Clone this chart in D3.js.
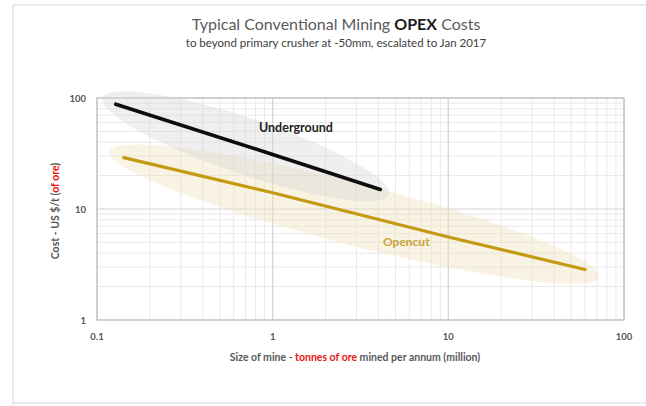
<!DOCTYPE html>
<html>
<head>
<meta charset="utf-8">
<script src="https://cdn.jsdelivr.net/npm/d3@7"></script>
<style>
  html, body { margin: 0; padding: 0; background: #fff; }
  svg { display: block; font-family: Lato, "Open Sans", sans-serif; }
</style>
</head>
<body>
<svg id="chart" width="646" height="406"></svg>
<script>
// Mine size (Mt ore per annum) vs. operating cost (US$/t ore)
const undergroundX = [0.128, 1, 4.1];
const undergroundY = [88, 31, 15];
const opencutX = [0.142, 1, 10, 60];
const opencutY = [29, 14, 5.6, 2.85];

// Spread of cost around each trend: long-axis ends in data units, half width in px
const undergroundBand = { from: [0.108, 100], to: [4.6, 13.5], halfWidth: 28 };
const opencutBand = { from: [0.118, 33], to: [72, 2.45], halfWidth: 31 };

const xTicks = [0.1, 1, 10, 100];
const yTicks = [1, 10, 100];
const xTickLabels = ["0.1", "1", "10", "100"];
const yTickLabels = ["1", "10", "100"];

const svg = d3.select("#chart");
const W = 646, H = 406;
const margin = { left: 97, right: 22, top: 98, bottom: 86 };

const x = d3.scaleLog().domain([0.1, 100]).range([margin.left, W - margin.right]);
const y = d3.scaleLog().domain([1, 100]).range([H - margin.bottom, margin.top]);

// faint outer frame
const frame = svg.append("g").attr("stroke", "#e4e4e4").attr("stroke-width", 1.5);
frame.append("line").attr("x1", 13).attr("x2", 13).attr("y1", 5).attr("y2", H);
frame.append("line").attr("x1", 13).attr("x2", W).attr("y1", 5).attr("y2", 5);
frame.append("line").attr("x1", 13).attr("x2", W).attr("y1", 403).attr("y2", 403);

// title
svg.append("text")
  .attr("x", 336).attr("y", 30)
  .attr("text-anchor", "middle")
  .attr("font-size", 16).attr("fill", "#5a5a5a")
  .call(t => {
    t.append("tspan").text("Typical Conventional Mining ");
    t.append("tspan").attr("font-weight", "bold").attr("fill", "#1a1a1a").text("OPEX");
    t.append("tspan").text(" Costs");
  });
svg.append("text")
  .attr("x", 336).attr("y", 47)
  .attr("text-anchor", "middle")
  .attr("font-size", 11.5).attr("fill", "#404040")
  .text("to beyond primary crusher at -50mm, escalated to Jan 2017");

// gridlines: minor then major
const minorX = [];
[0.1, 1, 10].forEach(d => { for (let k = 2; k <= 9; k++) minorX.push(d * k); });
const minorY = [];
[1, 10].forEach(d => { for (let k = 2; k <= 9; k++) minorY.push(d * k); });

const grid = svg.append("g");
grid.selectAll(".mx").data(minorX).join("line")
  .attr("x1", d => x(d)).attr("x2", d => x(d))
  .attr("y1", y(1)).attr("y2", y(100))
  .attr("stroke", "#e9e9e9").attr("stroke-width", 1);
grid.selectAll(".my").data(minorY).join("line")
  .attr("x1", x(0.1)).attr("x2", x(100))
  .attr("y1", d => y(d)).attr("y2", d => y(d))
  .attr("stroke", "#e9e9e9").attr("stroke-width", 1);
grid.selectAll(".Mx").data(xTicks).join("line")
  .attr("x1", d => x(d)).attr("x2", d => x(d))
  .attr("y1", y(1)).attr("y2", y(100))
  .attr("stroke", "#d2d2d2").attr("stroke-width", 1.2);
grid.selectAll(".My").data(yTicks).join("line")
  .attr("x1", x(0.1)).attr("x2", x(100))
  .attr("y1", d => y(d)).attr("y2", d => y(d))
  .attr("stroke", "#d2d2d2").attr("stroke-width", 1.2);
grid.append("rect")
  .attr("x", x(0.1)).attr("y", y(100))
  .attr("width", x(100) - x(0.1)).attr("height", y(1) - y(100))
  .attr("fill", "none").attr("stroke", "#c4c4c4").attr("stroke-width", 1.3);

// shaded cost bands
function band(b, fill, op) {
  const x1 = x(b.from[0]), y1 = y(b.from[1]);
  const x2 = x(b.to[0]), y2 = y(b.to[1]);
  const cx = (x1 + x2) / 2, cy = (y1 + y2) / 2;
  const rx = Math.hypot(x2 - x1, y2 - y1) / 2;
  const ang = Math.atan2(y2 - y1, x2 - x1) * 180 / Math.PI;
  svg.append("ellipse")
    .attr("cx", cx).attr("cy", cy)
    .attr("rx", rx).attr("ry", b.halfWidth)
    .attr("transform", `rotate(${ang},${cx},${cy})`)
    .attr("fill", fill).attr("fill-opacity", op);
}
band(opencutBand, "#efe2b8", 0.4);
band(undergroundBand, "#d6d6d6", 0.38);

// trend lines
const line = d3.line().x(d => x(d[0])).y(d => y(d[1]));
svg.append("path")
  .datum(opencutX.map((v, i) => [v, opencutY[i]]))
  .attr("d", line).attr("fill", "none")
  .attr("stroke", "#c39a12").attr("stroke-width", 3.2).attr("stroke-linecap", "round");
svg.append("path")
  .datum(undergroundX.map((v, i) => [v, undergroundY[i]]))
  .attr("d", line).attr("fill", "none")
  .attr("stroke", "#0d0d0d").attr("stroke-width", 3.6).attr("stroke-linecap", "round");

// series labels
svg.append("text").attr("x", 259).attr("y", 132)
  .attr("font-size", 12.5).attr("font-weight", "bold").attr("fill", "#222")
  .text("Underground");
svg.append("text").attr("x", 383).attr("y", 246)
  .attr("font-size", 12).attr("font-weight", "bold").attr("fill", "#c8a53a")
  .text("Opencut");

// tick labels
svg.append("g").selectAll("text").data(xTicks).join("text")
  .attr("x", d => x(d)).attr("y", 340)
  .attr("text-anchor", "middle")
  .attr("font-size", 9.5).attr("font-weight", "bold").attr("fill", "#555")
  .text((d, i) => xTickLabels[i]);
svg.append("g").selectAll("text").data(yTicks).join("text")
  .attr("x", 86).attr("y", d => y(d) + 3.5)
  .attr("text-anchor", "end")
  .attr("font-size", 9.5).attr("font-weight", "bold").attr("fill", "#555")
  .text((d, i) => yTickLabels[i]);

// axis titles
svg.append("text")
  .attr("x", 355).attr("y", 361)
  .attr("text-anchor", "middle")
  .attr("font-size", 10.5).attr("font-weight", "bold").attr("fill", "#595959")
  .call(t => {
    t.append("tspan").text("Size of mine - ");
    t.append("tspan").attr("fill", "#e8140c").text("tonnes of ore");
    t.append("tspan").text(" mined per annum (million)");
  });
svg.append("text")
  .attr("transform", "translate(59,211) rotate(-90)")
  .attr("text-anchor", "middle")
  .attr("font-size", 10.5).attr("font-weight", "bold").attr("fill", "#595959")
  .call(t => {
    t.append("tspan").text("Cost - US $/t (");
    t.append("tspan").attr("fill", "#e8140c").text("of ore");
    t.append("tspan").text(")");
  });
</script>
</body>
</html>
